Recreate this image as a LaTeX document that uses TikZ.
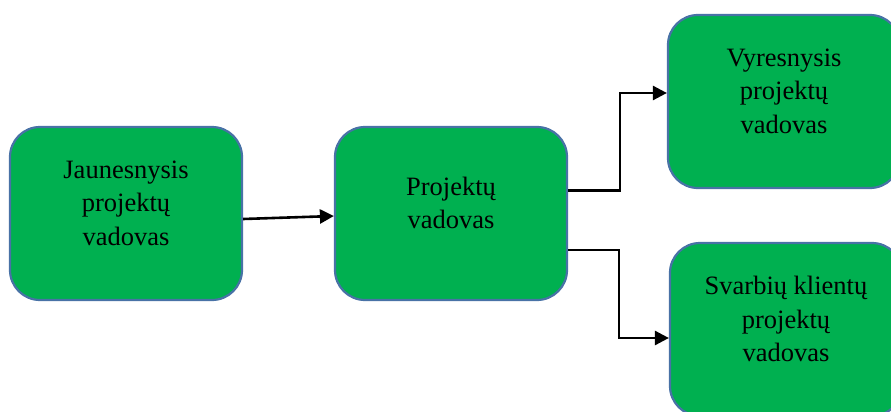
\documentclass[tikz,border=0pt]{standalone}
\usepackage{fontspec}
\setmainfont{Liberation Serif}
\usetikzlibrary{arrows.meta}
\definecolor{boxgreen}{RGB}{0,176,80}
\definecolor{boxedge}{RGB}{72,114,166}
\tikzset{
  rolebox/.style={draw=boxedge, line width=2.2pt, fill=boxgreen,
    rounded corners=30pt, minimum width=232pt, minimum height=173pt,
    inner sep=0pt},
  roletext/.style={align=center, inner sep=0pt, yshift=10.5pt,
    font=\fontsize{26.5}{33.5}\selectfont},
  link/.style={line width=2.6pt, draw=black,
    -{Triangle[length=14pt,width=14pt]}}
}
\begin{document}
\begin{tikzpicture}[x=1pt, y=-1pt]
  \useasboundingbox (0,0) rectangle (891,412);
  \clip (0,0) rectangle (891,412);

  % career steps
  \node[rolebox] (b1) at (126,213.5) {};
  \node[rolebox] (b2) at (451,213.5) {};
  \node[rolebox] (b3) at (784,101.5) {};
  \node[rolebox] (b4) at (786,329.5) {};

  \node[roletext] (t1) at (b1.center) {Jaunesnysis\\projektų\\vadovas};
  \node[roletext] (t2) at (b2.center) {Projektų\\vadovas};
  \node[roletext] (t3) at (b3.center) {Vyresnysis\\projektų\\vadovas};
  \node[roletext] (t4) at (b4.center) {Svarbių klientų\\projektų\\vadovas};

  % promotion paths
  \draw[link] ([yshift=-5.5pt]b1.east) -- ([yshift=-2.5pt]b2.west);
  \draw[link] ([yshift=23pt]b2.east) -- ++(52,0) |- ([yshift=8.5pt]b3.west);
  \draw[link] ([yshift=-36.5pt]b2.east) -- ++(51,0) |- ([yshift=-8.5pt]b4.west);
\end{tikzpicture}
\end{document}
